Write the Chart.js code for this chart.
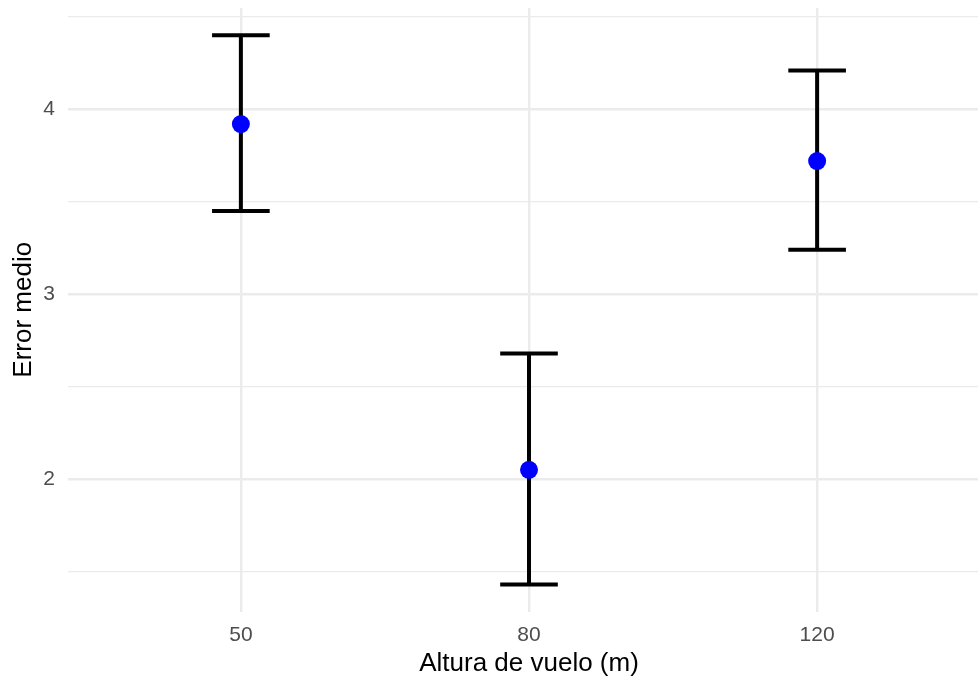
<!DOCTYPE html>
<html>
<head>
<meta charset="utf-8">
<script src="https://cdn.jsdelivr.net/npm/chart.js@4"></script>
<style>
  html, body { margin: 0; padding: 0; background: #fff; overflow: hidden; }
  #wrap { position: relative; width: 978px; height: 677px; }
</style>
</head>
<body>
<div id="wrap"><canvas id="grafico"></canvas></div>
<script>
// datos
const alturas = ['50', '80', '120'];
const posiciones = [1, 2, 3];
const errorMedio = [3.92, 2.05, 3.72];
const limiteInf = [3.45, 1.43, 3.24];
const limiteSup = [4.40, 2.68, 4.21];
const yTicks = [1.5, 2, 2.5, 3, 3.5, 4, 4.5];

// el panel original sigue 12px mas alla del borde derecho
const panelExtra = 12;
const extendPanel = {
    id: 'extendPanel',
    afterLayout(chart) {
        const x = chart.scales.x;
        x.right += panelExtra;
        x.width += panelExtra;
        chart.chartArea.right += panelExtra;
        chart.chartArea.width += panelExtra;
        x.configure();
    }
};

// barras de error dibujadas con las escalas del grafico
const errorBars = {
    id: 'errorBars',
    beforeDatasetsDraw(chart) {
        const {ctx, scales: {x, y}} = chart;
        ctx.save();
        ctx.strokeStyle = '#000';
        ctx.lineWidth = 4;
        ctx.lineCap = 'butt';
        posiciones.forEach((p, i) => {
            const px = x.getPixelForValue(p);
            const top = y.getPixelForValue(limiteSup[i]);
            const bot = y.getPixelForValue(limiteInf[i]);
            const l = x.getPixelForValue(p - 0.1);
            const r = x.getPixelForValue(p + 0.1);
            ctx.beginPath();
            ctx.moveTo(px, top); ctx.lineTo(px, bot);
            ctx.moveTo(l, top); ctx.lineTo(r, top);
            ctx.moveTo(l, bot); ctx.lineTo(r, bot);
            ctx.stroke();
        });
        ctx.restore();
    }
};

const gridColor = '#EBEBEB';
const font = 'Liberation Sans, Arial, sans-serif';

new Chart(document.querySelector('#grafico'), {
    type: 'scatter',
    data: {
        datasets: [{
            data: posiciones.map((p, i) => ({x: p, y: errorMedio[i]})),
            backgroundColor: '#0000FF',
            borderWidth: 0,
            pointRadius: 9,
        }]
    },
    options: {
        responsive: true,
        maintainAspectRatio: false,
        animation: false,
        layout: {autoPadding: false, padding: {top: 8, right: 0, left: 0, bottom: 0}},
        plugins: {legend: {display: false}, tooltip: {enabled: false}},
        scales: {
            x: {
                type: 'linear',
                min: 0.4,
                max: 3.6,
                afterBuildTicks: (s) => { s.ticks = posiciones.map(v => ({value: v})); },
                afterFit: (s) => { s.height = 65.5; s.paddingLeft = 0; s.paddingRight = 0; },
                grid: {color: gridColor, lineWidth: 2.4, drawTicks: false},
                border: {display: false},
                ticks: {
                    color: '#4D4D4D',
                    font: {family: font, size: 21},
                    padding: 11,
                    callback: (v) => alturas[posiciones.indexOf(v)],
                },
                title: {
                    display: true,
                    text: 'Altura de vuelo (m)',
                    color: '#000',
                    font: {family: font, size: 26, lineHeight: 1},
                    padding: {top: 0, bottom: 0},
                },
            },
            y: {
                min: 1.284,
                max: 4.548,
                afterBuildTicks: (s) => { s.ticks = yTicks.map(v => ({value: v})); },
                afterFit: (s) => { s.width = 68; s.paddingTop = 0; s.paddingBottom = 0; },
                grid: {
                    color: gridColor,
                    lineWidth: (c) => (c.tick && c.tick.value % 1 === 0) ? 2.4 : 1.2,
                    drawTicks: false,
                },
                border: {display: false},
                ticks: {
                    color: '#4D4D4D',
                    font: {family: font, size: 21},
                    padding: 13,
                    callback: (v) => (v % 1 === 0 ? String(v) : ''),
                },
                title: {
                    display: true,
                    text: 'Error medio',
                    color: '#000',
                    font: {family: font, size: 26, lineHeight: 1},
                    padding: {top: 11, bottom: 0},
                },
            },
        },
    },
    plugins: [extendPanel, errorBars],
});
</script>
</body>
</html>
